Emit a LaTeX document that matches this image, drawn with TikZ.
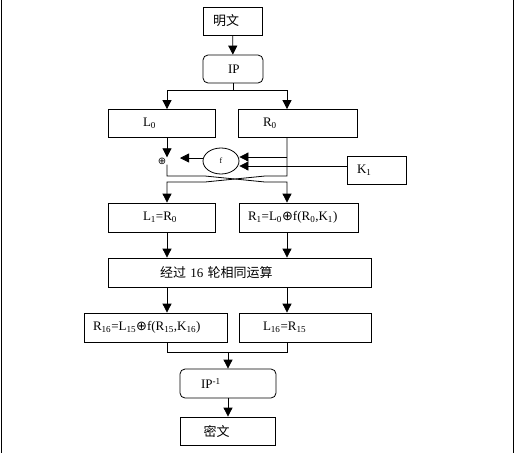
\documentclass[tikz,border=0pt]{standalone}
\usepackage{fontspec}
\setmainfont{Liberation Serif}
\newfontfamily\cjk{Noto Sans CJK SC}
\newfontfamily\symf{DejaVu Sans}
\newcommand{\xorsym}{{\symf ⊕}}
\usetikzlibrary{
    shapes.geometric,
    arrows.meta,
    positioning,
    calc
}

\begin{document}
\begin{tikzpicture}[
                x=1pt, y=-1pt, line width=0.8pt,
                block/.style={draw, minimum height=28pt, align=left, font=\fontsize{13}{15}\selectfont},
                roundblock/.style={block, rounded corners=5pt},
                arr/.style={-{Triangle[width=9pt,length=9pt]}}
            ]
                \useasboundingbox (0,0) rectangle (514,453);
                \draw (1,0) -- (1,453);
                \draw (513,0) -- (513,453);

                \node[block, text width=39pt, inner xsep=10pt] (plain) at (232.5,21) {\cjk 明文};
                \node[roundblock, text width=10pt, inner xsep=25pt] (ip) at (233,69) {IP};

                \node[block, text width=37pt, inner xsep=35pt] (l0) at (161.5,123.5) {L\textsubscript{0}};
                \node[block, text width=69pt, inner xsep=25pt] (r0) at (297.5,123.5) {R\textsubscript{0}};

                \node[inner sep=0pt, font=\fontsize{10}{12}\selectfont] (xor) at (162,161) {\xorsym};
                \node[draw, ellipse, minimum width=36pt, minimum height=26pt, inner sep=0pt, font=\footnotesize] (f) at (221,161) {f};
                \node[block, text width=39pt, inner xsep=10pt] (k1) at (376.5,170) {K\textsubscript{1}};

                \node[block, minimum height=29pt, text width=37pt, inner xsep=35pt] (l1) at (161.5,217.5) {L\textsubscript{1}=R\textsubscript{0}};
                \node[block, minimum height=29pt, text width=101pt, inner xsep=9pt] (r1) at (298.5,217.5) {R\textsubscript{1}=L\textsubscript{0}\xorsym f(R\textsubscript{0},K\textsubscript{1})};

                \node[block, minimum height=29pt, text width=159pt, inner xsep=52pt] (rounds) at (239.5,272.5) {{\cjk 经过} 16 {\cjk 轮相同运算}};

                \node[block, minimum height=29pt, text width=125pt, inner xsep=9pt] (r16) at (155.5,327.5) {R\textsubscript{16}=L\textsubscript{15}\xorsym f(R\textsubscript{15},K\textsubscript{16})};
                \node[block, minimum height=29pt, text width=84pt, inner xsep=24pt] (l16) at (305,327.5) {L\textsubscript{16}=R\textsubscript{15}};

                \node[roundblock, minimum height=29pt, text width=54pt, inner xsep=21pt] (ipinv) at (228,383.5) {IP\textsuperscript{-1}};
                \node[block, text width=49pt, inner xsep=23pt] (cipher) at (228,431) {\cjk 密文};

                % lanes
                \coordinate (lx) at (167,0);
                \coordinate (rx) at (287,0);
                \coordinate (split) at (233,90);
                \coordinate (merge) at (228,352);

                \draw[arr] (plain) -- (ip);
                \draw (ip.south) -- (split);
                \draw[arr] (split) -| (lx |- l0.north);
                \draw[arr] (split) -| (rx |- r0.north);

                % first round
                \coordinate (fin1) at ([yshift=4pt]f.east);
                \coordinate (fin2) at ([yshift=-5pt]f.east);
                \coordinate (ftip) at (180,158);
                \draw[arr] (lx |- l0.south) -- (lx |- xor.north);
                \draw[arr] (fin1 -| rx) -- (fin1);
                \draw[arr] (k1.west |- fin2) -- (fin2);
                \draw[arr] (f.west |- ftip) -- (ftip);
                \draw[arr] (lx |- xor.south) -- (167,176) -- (205,176) -- (265,182) -- (287,182) -- (rx |- r1.north);
                \draw[arr] (rx |- r0.south) -- (287,176) -- (265,176) -- (205,182) -- (167,182) -- (lx |- l1.north);

                \draw[arr] (lx |- l1.south) -- (lx |- rounds.north);
                \draw[arr] (rx |- r1.south) -- (rx |- rounds.north);
                \draw[arr] (lx |- rounds.south) -- (lx |- r16.north);
                \draw[arr] (rx |- rounds.south) -- (rx |- l16.north);

                % swap and output
                \draw (lx |- r16.south) |- (merge);
                \draw (rx |- l16.south) |- (merge);
                \draw[arr] (merge) -- (ipinv);
                \draw[arr] (ipinv) -- (cipher);
            \end{tikzpicture}
\end{document}
